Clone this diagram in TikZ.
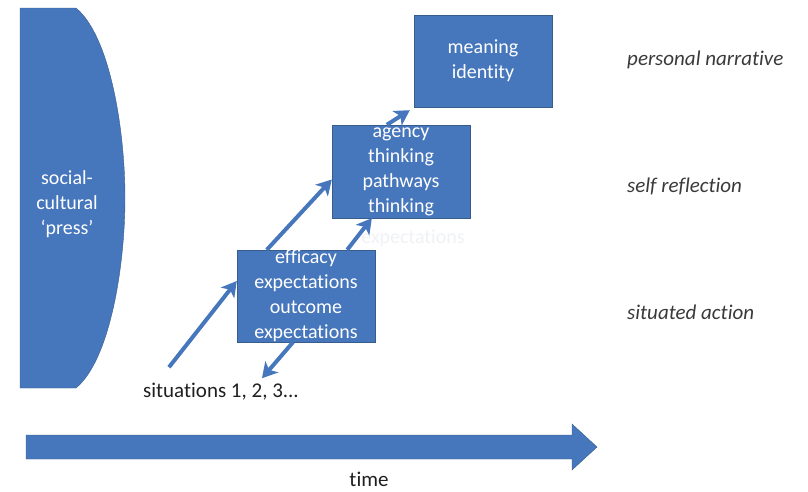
\documentclass[tikz,border=0pt]{standalone}
\usepackage{fontspec}
\setmainfont{Carlito}[Ligatures={TeX,NoCommon}]
\usepackage{xcolor}
\definecolor{cMain}{HTML}{4676BB}
\definecolor{cEdge}{HTML}{385D8A}
\definecolor{cText}{HTML}{1F1F1F}
\definecolor{cLabel}{HTML}{3A3A3A}
\definecolor{cGhost}{HTML}{EFF1F4}
\usepackage{tikz}
\usetikzlibrary{arrows.meta}
\tikzset{
  node-box/.style={draw=cEdge,fill=cMain,thin,inner sep=0pt,
    minimum width=138pt,minimum height=92pt},
  box-text/.style={text=white,align=center,inner sep=0pt,
    font=\fontsize{20}{25}\selectfont},
  layer-label/.style={anchor=west,text=cLabel,inner sep=0pt,
    font=\fontsize{21}{25}\selectfont\itshape},
  plain-text/.style={text=cText,inner sep=0pt,
    font=\fontsize{21}{25}\selectfont},
  arrow/.style={-{Stealth[length=15pt,width=17pt,inset=4pt]},line width=4pt,draw=cMain},
  band/.style={fill=cMain,draw=cEdge,thin},
}

\begin{document}
\begin{tikzpicture}[x=1pt,y=-1pt]
  \useasboundingbox (0,0) rectangle (808,491);

  % social-cultural press
  \draw[band] (20,8) -- (76,8) .. controls (110,36) and (125,130) .. (125,198)
    .. controls (125,266) and (110,360) .. (76,388) -- (20,388) -- cycle;
  \node[box-text] (press) at (67,204) {social-\\cultural\\‘press’};

  \node[node-box,label={[box-text]center:{efficacy\\expectations\\outcome\\expectations}}]
    (efficacy) at (306,296) {};
  \node[node-box,minimum height=93pt,
    label={[box-text]center:{agency\\thinking\\pathways\\thinking}}]
    (agency) at (401,171.5) {};
  \node[box-text,text=cGhost] (ghost) at (413,238) {expectations};
  \node[node-box,label={[box-text]center:{meaning\\identity}}]
    (meaning) at (483,61) {};

  \node[plain-text] (situations) at (221,392) {situations 1, 2, 3...};

  \foreach \name/\y/\txt in {narrative/60/personal narrative,
      reflection/186/self reflection, action/312/situated action}
    \node[layer-label] (\name) at (627,\y) {\txt};

  \draw[arrow] ([xshift=26pt,yshift=16pt]situations.north west) -- ([yshift=15pt]efficacy.west);
  \draw[arrow] ([xshift=30pt]efficacy.north west) -- ([yshift=-8pt]agency.west);
  \draw[arrow] ([xshift=-28pt]efficacy.north east) -- ([xshift=40pt]agency.south west);
  \draw[arrow] ([xshift=55pt]agency.north west) -- ([xshift=-4pt,yshift=-3pt]meaning.south west);
  \draw[arrow] ([xshift=-13pt]efficacy.south) -- ([xshift=41pt,yshift=5pt]situations.north);

  % time axis
  \draw[band] (26,435) -- (572,435) -- (572,424) -- (597,447) -- (572,470)
    -- (572,459) -- (26,459) -- cycle;
  \node[plain-text] (time) at (369,479) {time};
\end{tikzpicture}
\end{document}
